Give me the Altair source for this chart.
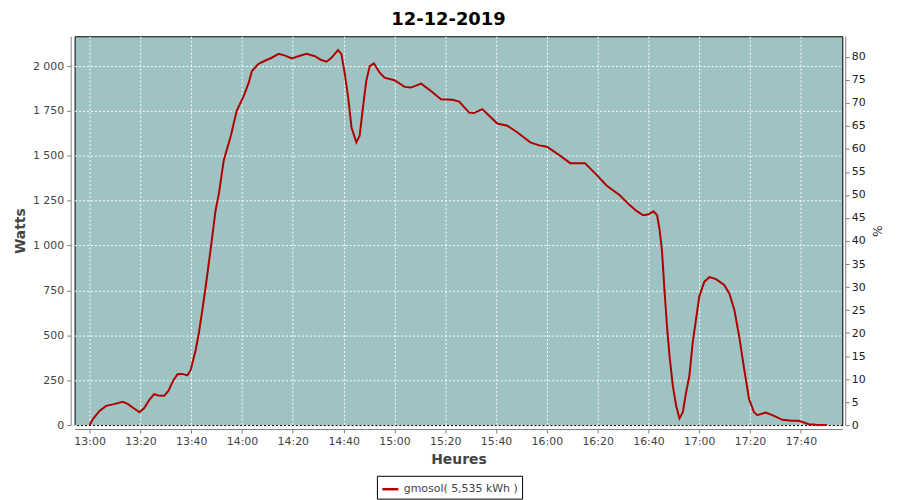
import altair as alt
import pandas as pd

# minutes after 13:00 and power in watts
minutes = [0, 1.3, 3.9, 6.5, 7.8, 10, 13, 15, 17.5, 19.6, 21.5, 23.5, 25.4, 27, 29.4,
           31, 33, 34.6, 36.5, 38.5, 39.8, 41.8, 43, 44.4, 45.7, 47.6, 49.6, 50.9,
           52.8, 55.6, 57.9, 60.7, 62.6, 63.9, 66.5, 69.2, 71.5, 74.4, 77, 79.6,
           82.2, 85.4, 88.7, 91, 93.3, 95.2, 97.8, 99.1, 100.5, 101.8, 103.1, 105,
           106.3, 107.6, 108.9, 110.3, 111.9, 114.2, 116.1, 120, 124, 126.5, 130.5,
           134.4, 138.3, 142.9, 145.5, 149.4, 151.3, 154.6, 157.5, 160.5, 164.4,
           168.3, 173.5, 177, 180, 185.2, 189.2, 195, 199.6, 203.5, 208.7, 212.7,
           215.3, 217.9, 219.8, 222, 223.4, 224.4, 225.3, 226.3, 227.3, 228.3,
           229.6, 230.9, 232.2, 233.5, 234.8, 236.1, 237.4, 238.7, 240, 242, 244,
           246.6, 249.8, 251.8, 253.8, 255.7, 257.7, 259.6, 261.6, 262.9, 266.1,
           268.8, 272.7, 276.6, 279.2, 283.1, 286, 290.3]
watts = [0, 33, 79, 107, 111, 118, 129, 118, 92, 72, 95, 140, 172, 165, 163,
         190, 250, 283, 285, 277, 307, 421, 513, 643, 772, 975, 1197, 1289,
         1474, 1612, 1751, 1834, 1906, 1972, 2013, 2031, 2045, 2068, 2058, 2043,
         2055, 2068, 2055, 2035, 2024, 2046, 2089, 2068, 1954, 1824, 1658, 1575,
         1612, 1769, 1917, 2000, 2015, 1963, 1935, 1921, 1884, 1880, 1902,
         1861, 1815, 1812, 1802, 1741, 1738, 1760, 1720, 1680, 1668,
         1631, 1575, 1558, 1551, 1501, 1459, 1459, 1394, 1335, 1280, 1224,
         1193, 1169, 1173, 1191, 1169, 1086, 975, 753, 550, 384,
         218, 107, 37, 70, 181, 273, 458, 587, 716, 799, 824,
         813, 781, 735, 643, 495, 310, 144, 70, 55, 70,
         55, 29, 24, 24, 5, 2, 0]
series_name = "gmosol( 5,535 kWh )"
x_ticks = [780, 800, 820, 840, 860, 880, 900, 920, 940, 960, 980, 1000, 1020, 1040, 1060]
w_ticks = [0, 250, 500, 750, 1000, 1250, 1500, 1750, 2000]
pct_ticks = list(range(0, 85, 5))
w_per_pct = 25.633

df = pd.DataFrame({"x": [780 + m for m in minutes], "w": watts, "serie": series_name})

label_font = "DejaVu Sans"
grey = "#444444"
axis_grey = "#808080"

x_enc = alt.X(
    "x:Q",
    scale=alt.Scale(domain=[774.1, 1076.3], nice=False, zero=False),
    axis=alt.Axis(
        values=x_ticks,
        labelExpr="floor(datum.value/60) + ':' + (datum.value % 60 < 10 ? '0' : '') + (datum.value % 60)",
        title="Heures",
        offset=4,
        grid=True,
        gridColor="white",
        gridDash=[2, 2],
        gridWidth=1,
        domainColor=axis_grey,
        tickColor=axis_grey,
        tickSize=4,
        labelPadding=3,
        labelFontSize=11,
        labelColor=grey,
        labelFont=label_font,
        titleFont=label_font,
        titleFontSize=14,
        titleFontWeight="bold",
        titleColor=grey,
        titlePadding=6,
        labelFlush=False,
        labelOverlap=False,
    ),
)

line = alt.Chart(df).mark_line(strokeWidth=2, interpolate="linear").encode(
    x=x_enc,
    y=alt.Y(
        "w:Q",
        scale=alt.Scale(domain=[0, 2166], nice=False),
        axis=alt.Axis(
            values=w_ticks,
            labelExpr="replace(format(datum.value, ','), ',', ' ')",
            title="Watts",
            offset=4,
            grid=True,
            gridColor="white",
            gridDash=[2, 2],
            gridWidth=1,
            domainColor=axis_grey,
            tickColor=axis_grey,
            tickSize=4,
            labelPadding=3,
            labelFontSize=11,
            labelColor=grey,
            labelFont=label_font,
            titleFont=label_font,
            titleFontSize=14,
            titleFontWeight="bold",
            titleColor=grey,
            titlePadding=5,
            labelOverlap=False,
        ),
    ),
    color=alt.Color(
        "serie:N",
        scale=alt.Scale(range=["#b00000"]),
        legend=alt.Legend(
            title=None,
            orient="none",
            legendX=304,
            legendY=442,
            strokeColor="black",
            fillColor="white",
            padding=4,
            symbolType="stroke",
            symbolSize=256,
            symbolStrokeWidth=2.5,
            labelFontSize=11,
            labelFont=label_font,
            labelColor=grey,
            labelOffset=4,
        ),
    ),
)

right = alt.Chart(df).mark_point(opacity=0).encode(
    x=alt.X("x:Q"),
    y=alt.Y(
        "w:Q",
        scale=alt.Scale(domain=[0, 84.5 * w_per_pct], nice=False),
        axis=alt.Axis(
            orient="right",
            values=[v * w_per_pct for v in pct_ticks],
            labelExpr="round(datum.value / 25.633)",
            title="%",
            offset=3,
            grid=False,
            domainColor=axis_grey,
            tickColor=axis_grey,
            tickSize=4,
            labelPadding=2,
            labelFontSize=11,
            labelColor="#222222",
            labelFont=label_font,
            titleFont=label_font,
            titleFontSize=12,
            titleFontWeight="normal",
            titleColor="#222222",
            titlePadding=4,
            labelOverlap=False,
        ),
    ),
)

chart = (
    alt.layer(line, right)
    .resolve_scale(y="independent")
    .properties(
        width=772,
        height=391,
        autosize=alt.AutoSizeParams(type="none"),
        padding={"left": 67, "top": 27, "right": 50, "bottom": 85},
        title=alt.TitleParams(
            "12-12-2019",
            font=label_font,
            fontSize=18,
            fontWeight="bold",
            color="black",
            anchor="middle",
            dx=-10,
            offset=7,
        ),
    )
    .configure(font=label_font, background="white")
    .configure_view(fill="#9fc3c3", stroke="black", strokeWidth=1)
)

chart.save("out.html", embed_options={"renderer": "svg", "actions": False})
